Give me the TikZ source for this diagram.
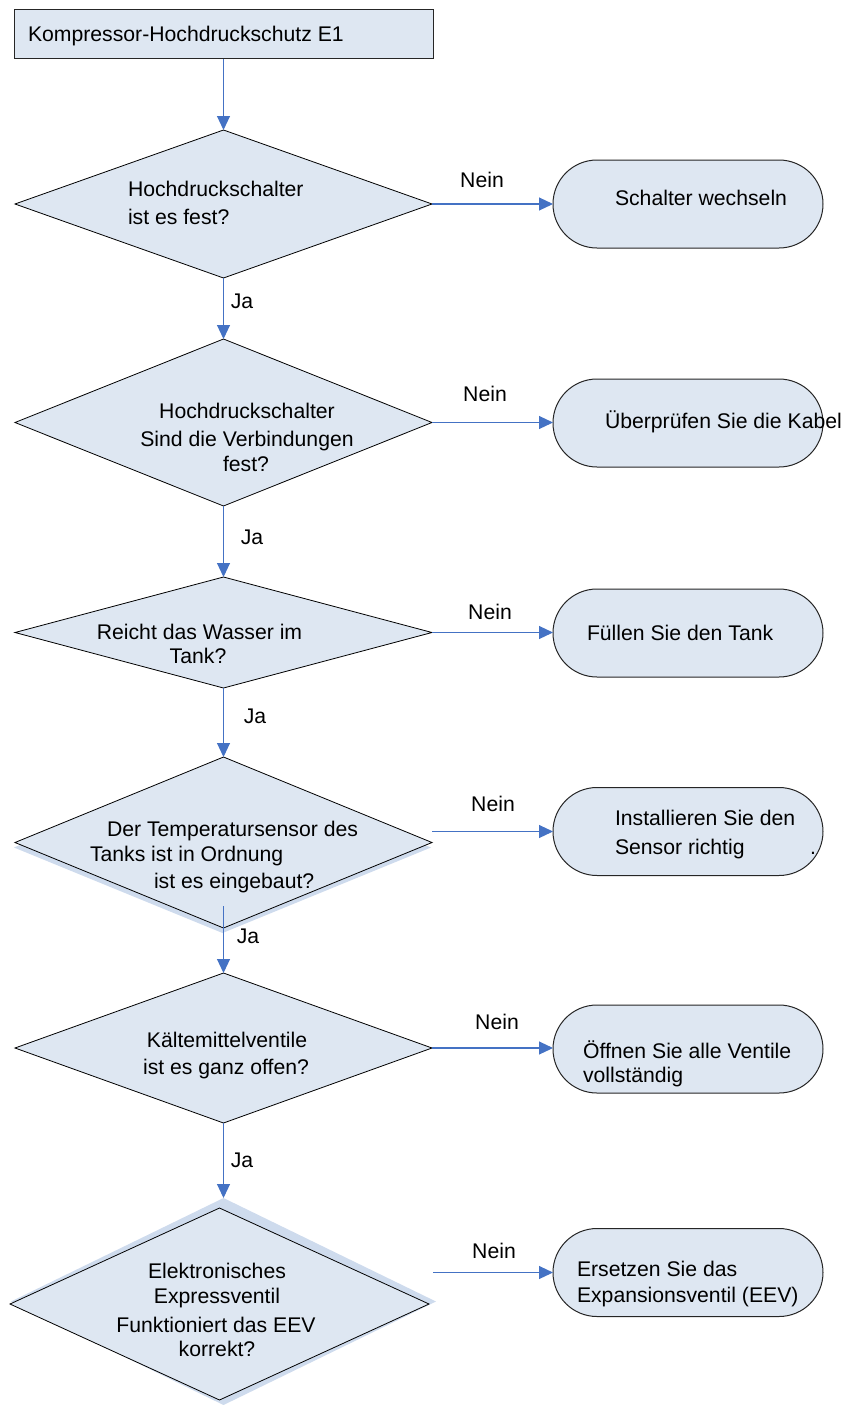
\documentclass[tikz,border=0pt]{standalone}
\usepackage{fontspec}
\setmainfont{Liberation Sans}
\usetikzlibrary{shapes.geometric,arrows.meta}
\definecolor{boxfill}{RGB}{222,231,242}
\definecolor{shadowc}{RGB}{206,219,237}
\definecolor{arrowc}{RGB}{68,114,196}
\begin{document}
\begin{tikzpicture}[x=1pt,y=-1pt,
  txt/.style={font=\fontsize{21.2}{28}\selectfont, inner sep=0pt, outer sep=0pt},
  startbox/.style={draw=black!85, fill=boxfill, line width=1pt, minimum width=419pt, minimum height=49pt, inner sep=0pt, outer sep=0pt},
  decision/.style={diamond, draw=black, fill=boxfill, line width=0.8pt, minimum width=417pt, minimum height=#1, inner sep=0pt, outer sep=0pt},
  shadowdia/.style={diamond, draw=none, fill=shadowc, minimum width=417pt, minimum height=#1, inner sep=0pt, outer sep=0pt},
  endbox/.style={draw=black!85, fill=boxfill, line width=1pt, rounded corners=44pt, minimum width=270pt, minimum height=88pt, inner sep=0pt, outer sep=0pt},
  flow/.style={draw=arrowc, line width=1.1pt, -{Triangle[length=14pt,width=13pt]}},
]
\useasboundingbox (0,0) rectangle (845,1405);

% start box
\node[startbox] (start) at (223.5,34.5) {};
\node[txt, anchor=base west] (startt) at (28,42) {Kompressor-Hochdruckschutz E1};

% decisions
\node[decision=148pt] (d1) at (223.5,204) {};
\node[decision=167pt] (d2) at (223.5,422.5) {};
\node[decision=111pt] (d3) at (223.5,632.5) {};
\node[shadowdia=171pt] (d4s) at (222.5,847.5) {};
\node[decision=171pt] (d4) at (223.5,842.5) {};
\node[decision=150pt] (d5) at (223.5,1048) {};
\node[shadowdia=207pt, minimum width=425pt] (d6s) at (223.5,1301.5) {};
\node[decision=192pt, minimum width=419pt] (d6) at (219.5,1304) {};

% decision texts
\node[txt, anchor=base west] (d1a) at (128,196) {Hochdruckschalter};
\node[txt, anchor=base west] (d1b) at (128,224) {ist es fest?};

\node[txt, anchor=base] (d2a) at (247,418) {Hochdruckschalter};
\node[txt, anchor=base] (d2b) at (247,446) {Sind die Verbindungen};
\node[txt, anchor=base] (d2c) at (246,471) {fest?};

\node[txt, anchor=base] (d3a) at (199.5,639) {Reicht das Wasser im};
\node[txt, anchor=base] (d3b) at (198,663) {Tank?};

\node[txt, anchor=base west] (d4a) at (107,836) {Der Temperatursensor des};
\node[txt, anchor=base west] (d4b) at (90,861) {Tanks ist in Ordnung};
\node[txt, anchor=base west] (d4c) at (154,888) {ist es eingebaut?};

\node[txt, anchor=base] (d5a) at (227,1047) {Kältemittelventile};
\node[txt, anchor=base] (d5b) at (226,1074) {ist es ganz offen?};

\node[txt, anchor=base] (d6a) at (217,1278) {Elektronisches};
\node[txt, anchor=base] (d6b) at (217,1303) {Expressventil};
\node[txt, anchor=base] (d6c) at (216,1332) {Funktioniert das EEV};
\node[txt, anchor=base] (d6d) at (217,1356) {korrekt?};

% end boxes
\node[endbox] (b1) at (688,204) {};
\node[endbox] (b2) at (688,423) {};
\node[endbox] (b3) at (688,633) {};
\node[endbox] (b4) at (688,831.5) {};
\node[endbox] (b5) at (688,1049) {};
\node[endbox] (b6) at (688,1272.5) {};

\node[txt, anchor=base west] (b1t) at (615,205) {Schalter wechseln};
\node[txt, anchor=base west] (b2t) at (605,428) {Überprüfen Sie die Kabel};
\node[txt, anchor=base west] (b3t) at (587,640) {Füllen Sie den Tank};
\node[txt, anchor=base west] (b4a) at (615,825) {Installieren Sie den};
\node[txt, anchor=base west] (b4b) at (615,854) {Sensor richtig};
\node[txt, anchor=base west] (b4c) at (810,854) {.};
\node[txt, anchor=base west] (b5a) at (583,1058) {Öffnen Sie alle Ventile};
\node[txt, anchor=base west] (b5b) at (583,1082) {vollständig};
\node[txt, anchor=base west] (b6a) at (577,1276) {Ersetzen Sie das};
\node[txt, anchor=base west] (b6b) at (577,1302) {Expansionsventil (EEV)};

% free ends
\coordinate (d4ja) at (223.5,906);
\coordinate (d4no) at (432,831.5);
\coordinate (d6no) at (433,1272.5);

% connectors
\draw[flow] (start.south) -- (d1.north);
\draw[flow] (d1.south) -- (d2.north);
\draw[flow] (d2.south) -- (d3.north);
\draw[flow] (d3.south) -- (d4.north);
\draw[flow] (d4ja) -- (d5.north);
\draw[flow] (d5.south) -- (d6s.north);

\draw[flow] (d1.east) -- (b1.west);
\draw[flow] (d2.east) -- (b2.west |- d2.east);
\draw[flow] (d3.east) -- (b3.west |- d3.east);
\draw[flow] (d4no) -- (b4.west);
\draw[flow] (d5.east) -- (b5.west |- d5.east);
\draw[flow] (d6no) -- (b6.west);

% labels
\node[txt, anchor=base] (n1) at (482,187) {Nein};
\node[txt, anchor=base] (n2) at (485,401) {Nein};
\node[txt, anchor=base] (n3) at (490,619) {Nein};
\node[txt, anchor=base] (n4) at (493,811) {Nein};
\node[txt, anchor=base] (n5) at (497,1029) {Nein};
\node[txt, anchor=base] (n6) at (494,1258) {Nein};

\node[txt, anchor=base] (j1) at (242,308) {Ja};
\node[txt, anchor=base] (j2) at (252,544) {Ja};
\node[txt, anchor=base] (j3) at (255,723) {Ja};
\node[txt, anchor=base] (j4) at (248,943) {Ja};
\node[txt, anchor=base] (j5) at (242,1167) {Ja};
\end{tikzpicture}
\end{document}
